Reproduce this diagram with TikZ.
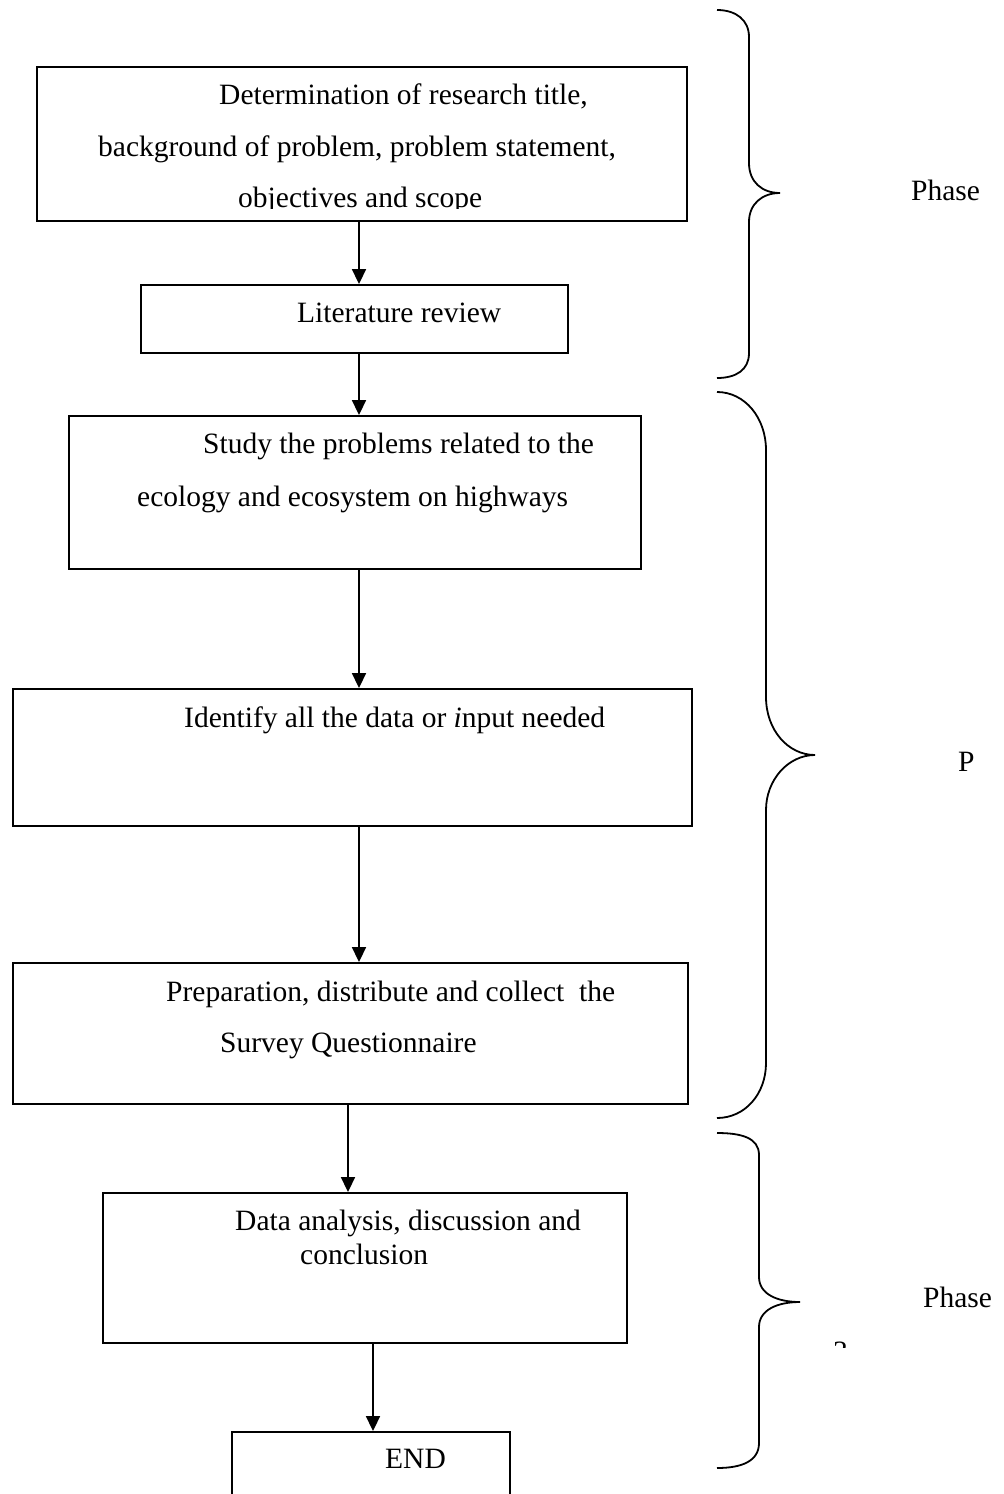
\documentclass[tikz,border=0pt]{standalone}
\usepackage{fontspec}
\setmainfont{Liberation Serif}
\usetikzlibrary{arrows.meta}
\begin{document}
\begin{tikzpicture}[x=1pt,y=-1pt,
  box/.style={draw, line width=1.9pt, inner sep=0pt, rectangle},
  txt/.style={anchor=base west, inner sep=0pt, font=\fontsize{29.5}{34}\selectfont},
  arr/.style={line width=1.8pt, -{Triangle[length=15pt,width=14pt]}},
  bracepath/.style={line width=1.8pt}]
\useasboundingbox (0,0) rectangle (1004,1494);
\fill[white] (0,0) rectangle (1004,1494);

% boxes
\node[box, minimum width=650pt, minimum height=154pt] (b1) at (362,144) {};
\node[box, minimum width=427pt, minimum height=68pt] (b2) at (354.5,319) {};
\node[box, minimum width=572pt, minimum height=153pt] (b3) at (355,492.5) {};
\node[box, minimum width=679pt, minimum height=137pt] (b4) at (352.5,757.5) {};
\node[box, minimum width=675pt, minimum height=141pt] (b5) at (350.5,1033.5) {};
\node[box, minimum width=524pt, minimum height=150pt] (b6) at (365,1268) {};
\node[box, minimum width=278pt, minimum height=90pt] (b7) at (371,1477) {};

% texts
\node[txt] (t1a) at (219,104) {Determination of research title,};
\node[txt] (t1b) at (98,156) {background of problem, problem statement,};
\begin{scope}
  \clip (37,170) rectangle (687,208);
  \node[txt] (t1c) at (238,207) {objectives and scope};
\end{scope}
\node[txt] (t2) at (297,322) {Literature review};
\node[txt] (t3a) at (203,453) {Study the problems related to the};
\node[txt] (t3b) at (137,506) {ecology and ecosystem on highways};
\node[txt] (t4) at (184,727) {Identify all the data or \textit{i}nput needed};
\node[txt] (t5a) at (166,1001) {Preparation, distribute and collect\ \ the};
\node[txt] (t5b) at (220,1052) {Survey Questionnaire};
\node[txt] (t6a) at (235,1230) {Data analysis, discussion and};
\node[txt] (t6b) at (300,1264) {conclusion};
\node[txt] (t7) at (385,1468) {END};

% phase labels
\node[txt] (p1) at (911,200) {Phase};
\node[txt] (p2) at (958,771) {P};
\node[txt] (p3) at (923,1307) {Phase};
\begin{scope}
  \clip (825,1335) rectangle (860,1347);
  \node[txt] (p3n) at (833,1361) {3};
\end{scope}

% arrows
\coordinate (ax1) at (359,0);
\coordinate (ax2) at (348,0);
\coordinate (ax3) at (373,0);
\draw[arr] (b1.south -| ax1) -- (b2.north -| ax1);
\draw[arr] (b2.south -| ax1) -- (b3.north -| ax1);
\draw[arr] (b3.south -| ax1) -- (b4.north -| ax1);
\draw[arr] (b4.south -| ax1) -- (b5.north -| ax1);
\draw[arr] (b5.south -| ax2) -- (b6.north -| ax2);
\draw[arr] (b6.south -| ax3) -- (b7.north -| ax3);

% braces
\draw[bracepath] (717,10) .. controls (736,10) and (749,20) .. (749,37)
  -- (749,163) .. controls (749,182) and (762,193) .. (780,193)
  .. controls (762,193) and (749,204) .. (749,222)
  -- (749,353) .. controls (749,370) and (736,378) .. (717,378);
\draw[bracepath] (717,392) .. controls (745,392) and (766,418) .. (766,450)
  -- (766,697) .. controls (766,730) and (788,755) .. (815,755)
  .. controls (788,755) and (766,780) .. (766,810)
  -- (766,1063) .. controls (766,1094) and (745,1118) .. (717,1118);
\draw[bracepath] (717,1133) .. controls (742,1133) and (759,1138) .. (759,1155)
  -- (759,1277) .. controls (759,1294) and (777,1302) .. (800,1302)
  .. controls (777,1302) and (759,1310) .. (759,1327)
  -- (759,1443) .. controls (759,1461) and (742,1468) .. (717,1468);
\end{tikzpicture}
\end{document}
